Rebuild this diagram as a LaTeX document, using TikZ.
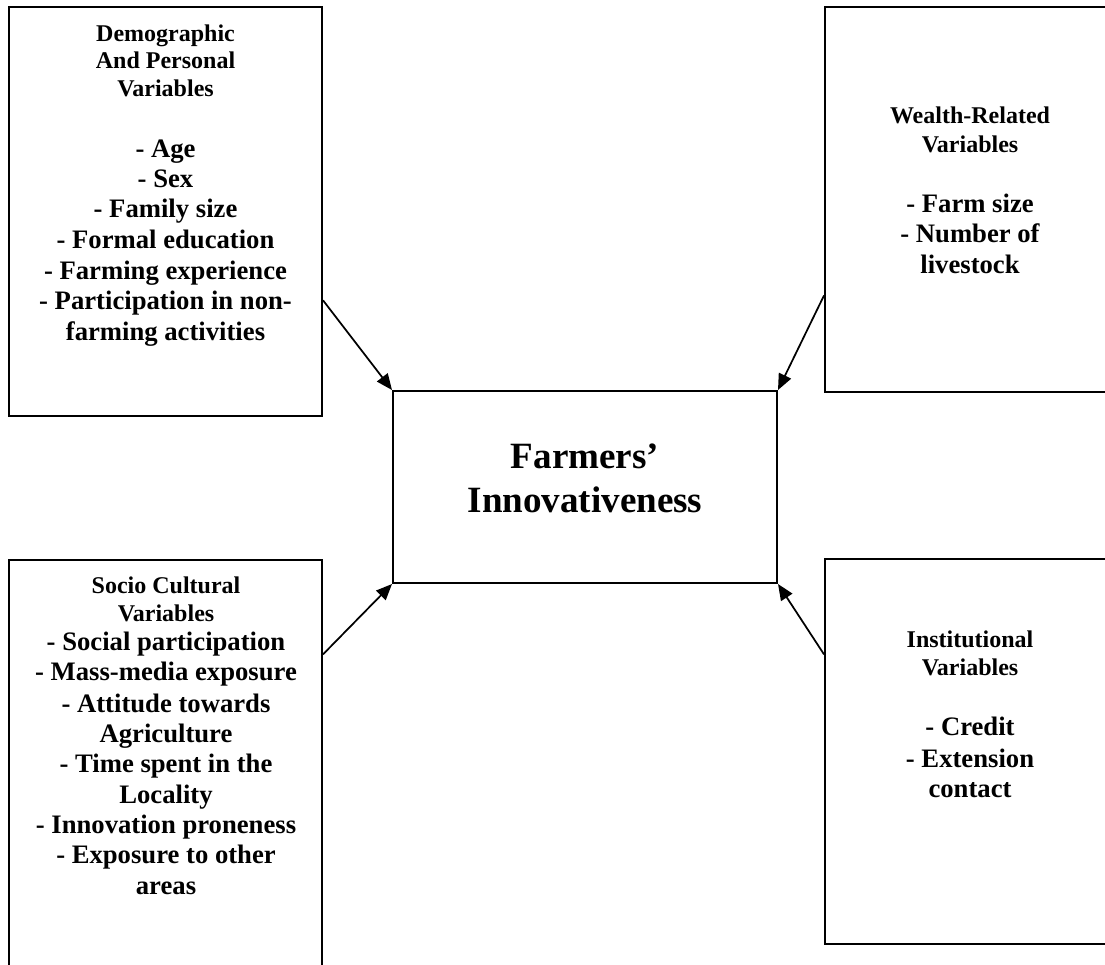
\documentclass[tikz,border=0pt]{standalone}
\usepackage{fontspec}
\setmainfont{Liberation Serif}
\usetikzlibrary{arrows.meta,calc}
\begin{document}
\begin{tikzpicture}[x=0.75pt,y=-0.75pt,
  box/.style={draw,line width=1.5pt,rectangle,inner sep=0pt},
  hd/.style={anchor=base,inner sep=0pt,font=\fontsize{18pt}{21pt}\selectfont\bfseries},
  it/.style={anchor=base,inner sep=0pt,font=\fontsize{20pt}{23pt}\selectfont\bfseries},
  ttl/.style={anchor=base,inner sep=0pt,font=\fontsize{27.8pt}{33pt}\selectfont\bfseries},
  arr/.style={line width=1.3pt,-{Triangle[length=12pt,width=10pt]}}]
\clip (0,0) rectangle (1105,964);
\fill[white] (0,0) rectangle (1105,964);
% boxes
\node[box,minimum width=234.75pt,minimum height=306.75pt] (tl) at (165.5,211.5) {};
\node[box,minimum width=221.25pt,minimum height=288.75pt] (tr) at (972.5,199.5) {};
\node[box,minimum width=234.75pt,minimum height=315pt] (bl) at (165.5,770) {};
\node[box,minimum width=221.25pt,minimum height=288.75pt] (br) at (972.5,751.5) {};
\node[box,minimum width=288pt,minimum height=144pt] (c) at (585,487) {};
% texts
\foreach \y/\t [count=\i] in {41/Demographic,68/And Personal,96/Variables}
  \node[hd] (tlh-\i) at (165.5,\y) {\t};
\foreach \y/\t [count=\i] in {157/- Age,187/- Sex,217/- Family size,248/- Formal education,279/- Farming experience,309/- Participation in non-,340/farming activities}
  \node[it] (tli-\i) at (165.5,\y) {\t};
\foreach \y/\t [count=\i] in {123/Wealth-Related,152/Variables}
  \node[hd] (trh-\i) at (970,\y) {\t};
\foreach \y/\t [count=\i] in {212/- Farm size,242/- Number of,273/livestock}
  \node[it] (tri-\i) at (970,\y) {\t};
\foreach \y/\t [count=\i] in {593/Socio Cultural,621/Variables}
  \node[hd] (blh-\i) at (166,\y) {\t};
\foreach \y/\t [count=\i] in {650/- Social participation,680/- Mass-media exposure,712/- Attitude towards,742/Agriculture,772/- Time spent in the,803/Locality,833/- Innovation proneness,863/- Exposure to other,894/areas}
  \node[it] (bli-\i) at (166,\y) {\t};
\foreach \y/\t [count=\i] in {647/Institutional,675/Variables}
  \node[hd] (brh-\i) at (970,\y) {\t};
\foreach \y/\t [count=\i] in {735/- Credit,767/- Extension,797/contact}
  \node[it] (bri-\i) at (970,\y) {\t};
\node[ttl] (ct1) at (585,468) {Farmers’};
\node[ttl] (ct2) at (585,512) {Innovativeness};
% arrows
\draw[arr] ($(tl.north east)!0.716!(tl.south east)$) -- (c.north west);
\draw[arr] ($(tr.north west)!0.748!(tr.south west)$) -- (c.north east);
\draw[arr] ($(bl.north east)!0.226!(bl.south east)$) -- (c.south west);
\draw[arr] ($(br.north west)!0.249!(br.south west)$) -- (c.south east);
\end{tikzpicture}
\end{document}
